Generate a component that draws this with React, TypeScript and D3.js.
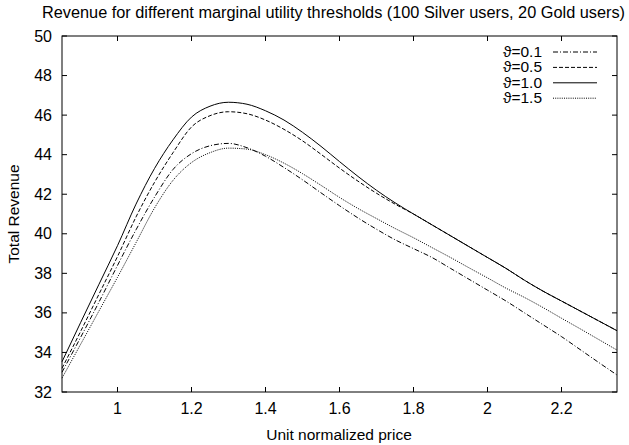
import React from "react";
import { scaleLinear, line, curveMonotoneX } from "d3";

const prices = [
  0.85, 0.9, 0.95, 1.0, 1.05, 1.1, 1.15, 1.2, 1.25, 1.3, 1.35, 1.4, 1.45, 1.5, 1.55, 1.6,
  1.65, 1.7, 1.75, 1.8, 1.85, 1.9, 1.95, 2.0, 2.05, 2.1, 2.15, 2.2, 2.25, 2.3, 2.35,
];

// theta = 0.1
const rev01 = [
  33.0, 34.75, 36.55, 38.4, 40.2, 41.85, 43.25, 44.05, 44.45, 44.57, 44.35, 43.92, 43.35, 42.73,
  42.07, 41.42, 40.8, 40.23, 39.7, 39.25, 38.8, 38.25, 37.7, 37.15, 36.6, 36.0, 35.4, 34.8,
  34.15, 33.5, 32.86,
];
// theta = 0.5
const rev05 = [
  33.2, 35.05, 36.95, 38.85, 40.85, 42.6, 44.1, 45.4, 45.97, 46.17, 46.07, 45.75, 45.28, 44.7,
  44.02, 43.32, 42.66, 42.05, 41.5, 41.0, 40.45, 39.9, 39.35, 38.8, 38.25, 37.65, 37.1, 36.6,
  36.1, 35.6, 35.1,
];
// theta = 1.0
const rev10 = [
  33.53, 35.5, 37.45, 39.4, 41.5, 43.3, 44.75, 45.9, 46.45, 46.65, 46.55, 46.22, 45.75, 45.13,
  44.42, 43.65, 42.9, 42.2, 41.57, 41.0, 40.45, 39.9, 39.35, 38.8, 38.25, 37.65, 37.1, 36.6,
  36.1, 35.6, 35.1,
];
// theta = 1.5
const rev15 = [
  32.7, 34.4, 36.1, 37.8, 39.55, 41.3, 42.7, 43.6, 44.1, 44.33, 44.28, 44.0, 43.57, 43.04,
  42.45, 41.84, 41.28, 40.77, 40.27, 39.8, 39.3, 38.8, 38.28, 37.77, 37.25, 36.78, 36.27, 35.73,
  35.2, 34.66, 34.12,
];

const seriesNames = ["ϑ=0.1", "ϑ=0.5", "ϑ=1.0", "ϑ=1.5"];
const seriesValues = [rev01, rev05, rev10, rev15];
const dashes = ["5,2,1,2", "4,2", "none", "1,1.2"];

const xTicks = [1, 1.2, 1.4, 1.6, 1.8, 2, 2.2];
const yTicks = [32, 34, 36, 38, 40, 42, 44, 46, 48, 50];

const W = 629;
const H = 445;
const left = 62;
const right = 617;
const top = 36;
const bottom = 392;
const font = "'Liberation Sans', Arial, Helvetica, sans-serif";

export default function App() {
  const x = scaleLinear().domain([0.85, 2.35]).range([left, right]);
  const y = scaleLinear().domain([32, 50]).range([bottom, top]);

  const path = line<number>()
    .x((_, i) => x(prices[i]))
    .y((d) => y(d))
    .curve(curveMonotoneX);

  const tick = 5;

  return (
    <svg
      width={W}
      height={H}
      viewBox={`0 0 ${W} ${H}`}
      style={{ position: "absolute", left: 0, top: 0, background: "#fff" }}
      fontFamily={font}
    >
      <rect x={0} y={0} width={W} height={H} fill="#fff" />
      <text
        x={42}
        y={18}
        fontSize={16}
        textLength={583}
        lengthAdjust="spacingAndGlyphs"
        fill="#000"
      >
        Revenue for different marginal utility thresholds (100 Silver users, 20 Gold users)
      </text>

      {/* ticks, mirrored on top and right */}
      {xTicks.map((t) => (
        <g key={"x" + t}>
          <line x1={x(t)} x2={x(t)} y1={bottom} y2={bottom - tick} stroke="#000" />
          <line x1={x(t)} x2={x(t)} y1={top} y2={top + tick} stroke="#000" />
          <text x={x(t)} y={414} fontSize={16} textAnchor="middle" fill="#000">
            {t}
          </text>
        </g>
      ))}
      {yTicks.map((t) => (
        <g key={"y" + t}>
          <line x1={left} x2={left + tick} y1={y(t)} y2={y(t)} stroke="#000" />
          <line x1={right} x2={right - tick} y1={y(t)} y2={y(t)} stroke="#000" />
          <text x={52} y={y(t) + 5.5} fontSize={16} textAnchor="end" fill="#000">
            {t}
          </text>
        </g>
      ))}

      <text x={339} y={440} fontSize={15.5} textAnchor="middle" fill="#000">
        Unit normalized price
      </text>
      <text
        transform={`translate(19, ${(top + bottom) / 2}) rotate(-90)`}
        fontSize={15.5}
        textAnchor="middle"
        fill="#000"
      >
        Total Revenue
      </text>

      {seriesValues.map((vals, i) => (
        <path
          key={seriesNames[i]}
          d={path(vals) ?? ""}
          fill="none"
          stroke="#000"
          strokeWidth={1}
          strokeDasharray={dashes[i]}
        />
      ))}

      {/* legend */}
      {seriesNames.map((name, i) => {
        const ly = 52 + i * 15.4;
        return (
          <g key={"l" + name}>
            <text x={542} y={ly + 5} fontSize={15.5} textAnchor="end" fill="#000">
              {name}
            </text>
            <line
              x1={553}
              x2={597}
              y1={ly}
              y2={ly}
              stroke="#000"
              strokeWidth={1}
              strokeDasharray={dashes[i]}
            />
          </g>
        );
      })}

      <rect
        x={left}
        y={top}
        width={right - left}
        height={bottom - top}
        fill="none"
        stroke="#000"
        strokeWidth={1}
      />
    </svg>
  );
}
